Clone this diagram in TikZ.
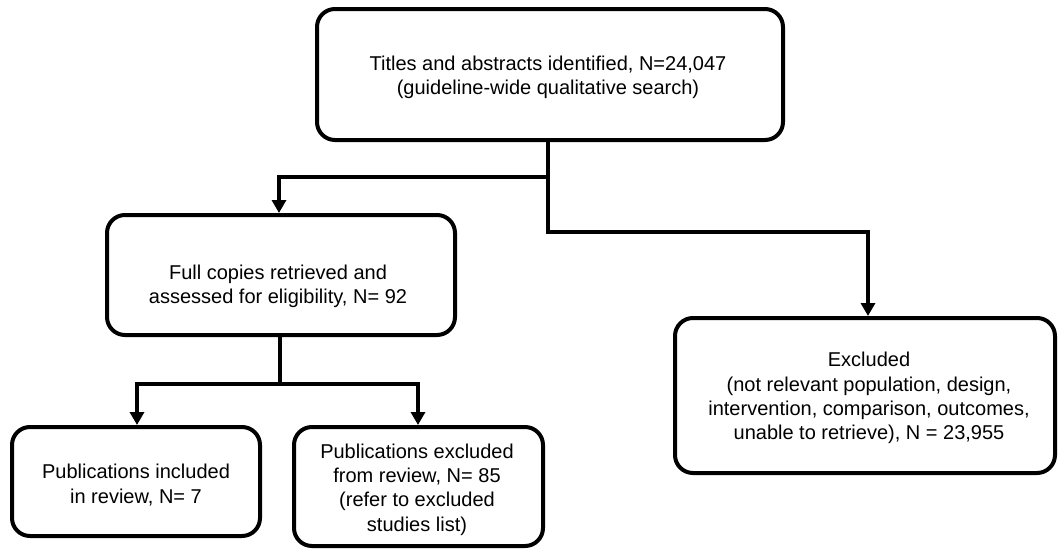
\documentclass[tikz,border=0pt]{standalone}
\usepackage{fontspec}
\setmainfont{Liberation Sans}
\usetikzlibrary{arrows.meta}
\begin{document}
\begin{tikzpicture}[x=1pt,y=-1pt,
  box/.style={draw=black,line width=4pt,rounded corners=18pt,minimum width=#1},
  txt/.style={align=center,inner sep=0pt,font=\fontsize{20}{24.3}\selectfont},
  conn/.style={draw=black,line width=4pt,line join=miter},
  arr/.style={conn,-{Triangle[width=14pt,length=13pt]}}
]
\useasboundingbox (0,0) rectangle (1058,549);
% boxes
\node[box=466pt,minimum height=131pt] (top) at (550,74.5) {};
\node[box=348pt,minimum height=120pt] (mid) at (281,275) {};
\node[box=380pt,minimum height=155pt] (right) at (865,395.5) {};
\node[box=248pt,minimum height=109pt] (bl) at (136,481.5) {};
\node[box=249pt,minimum height=119pt] (bm) at (418.5,486.5) {};
% texts
\node[txt] (toptext) at (548,77) {Titles and abstracts identified, N=24,047\\(guideline-wide qualitative search)};
\node[txt] (midtext) at (278,286) {Full copies retrieved and\\assessed for eligibility, N= 92};
\node[txt] (righttext) at (869,398) {Excluded\\(not relevant population, design,\\intervention, comparison, outcomes,\\unable to retrieve), N = 23,955};
\node[txt] (bltext) at (136,485) {Publications included\\in review, N= 7};
\node[txt] (bmtext) at (417,489.5) {Publications excluded\\from review, N= 85\\(refer to excluded\\studies list)};
% junctions
\coordinate (j1) at (548,177);
\coordinate (j2) at (548,232);
\coordinate (r1) at (868,232);
\coordinate (m1) at (279,177);
\coordinate (j3) at (280,384);
\coordinate (l1) at (137,384);
\coordinate (l2) at (418,384);
% connectors
\draw[arr] (top.south -| j2) -- (j2) -- (r1) -- (r1 |- right.north);
\draw[arr] (j1) -- (m1) -- (m1 |- mid.north);
\draw[conn] (mid.south -| j3) -- (j3);
\draw[arr] (j3) -- (l1) -- (l1 |- bl.north);
\draw[arr] (j3) -- (l2) -- (l2 |- bm.north);
\end{tikzpicture}
\end{document}
